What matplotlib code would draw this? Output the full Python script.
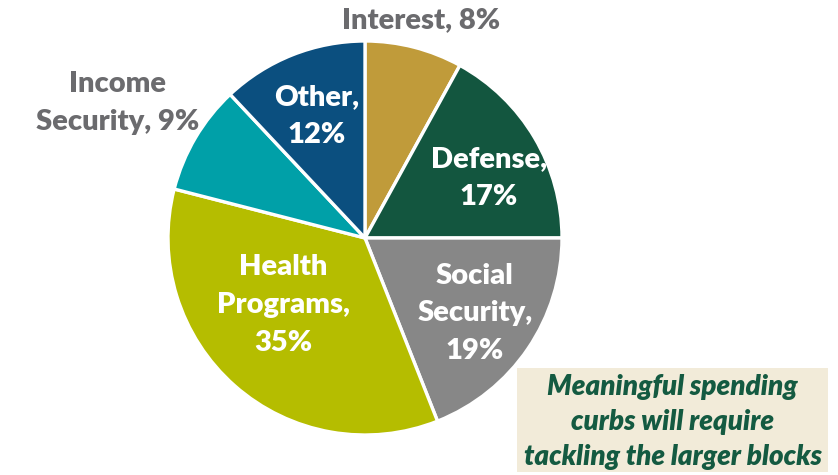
import matplotlib
matplotlib.use("Agg")
import matplotlib.pyplot as plt
from matplotlib.patches import Rectangle

# Federal spending shares
categories = ["Interest", "Defense", "Social Security", "Health Programs",
              "Income Security", "Other"]
shares = [8, 17, 19, 35, 9, 12]
colors = ["#C09B3A", "#13563F", "#878787", "#B5BD00", "#00A0A8", "#0B4F7F"]

label_texts = ["Interest, 8%", "Defense,\n17%", "Social\nSecurity,\n19%",
               "Health\nPrograms,\n35%", "Income\nSecurity, 9%", "Other,\n12%"]
label_pos = [(0.284, 1.107), (0.629, 0.305), (0.558, -0.381),
             (-0.416, -0.340), (-1.254, 0.685), (-0.244, 0.619)]
label_colors = ["#6B6B6E", "white", "white", "white", "#6B6B6E", "white"]

note = "Meaningful spending\ncurbs will require\ntackling the larger blocks"

plt.rcParams["font.family"] = ["Lato", "DejaVu Sans"]

W, H = 838, 475
fig = plt.figure(figsize=(W / 100, H / 100), dpi=100)
cx, cy, r = 365, 238, 197
ax = fig.add_axes([(cx - r) / W, (H - cy - r) / H, 2 * r / W, 2 * r / H])

ax.pie(shares, colors=colors, startangle=90, counterclock=False, radius=1,
       wedgeprops=dict(edgecolor="white", linewidth=2.4))
ax.set_xlim(-1, 1)
ax.set_ylim(-1, 1)
ax.set_aspect("equal")
ax.axis("off")

for txt, (x, y), c in zip(label_texts, label_pos, label_colors):
    ax.text(x, y, txt, ha="center", va="center", color=c, fontsize=21,
            fontweight="heavy", linespacing=1.55, clip_on=False)

# Callout box
bx0, bx1, by0, by1 = 517, 828, 368, 472
fig.patches.append(Rectangle((bx0 / W, 1 - by1 / H), (bx1 - bx0) / W,
                             (by1 - by0) / H, transform=fig.transFigure,
                             facecolor="#F2EBD9", edgecolor="none", zorder=0))
fig.text((bx0 + bx1) / 2 / W, 1 - 422 / H, note, ha="center", va="center",
         color="#145A41", fontsize=20, fontweight="heavy", fontstyle="italic",
         linespacing=1.42)

fig.savefig("out.png", dpi=100)
